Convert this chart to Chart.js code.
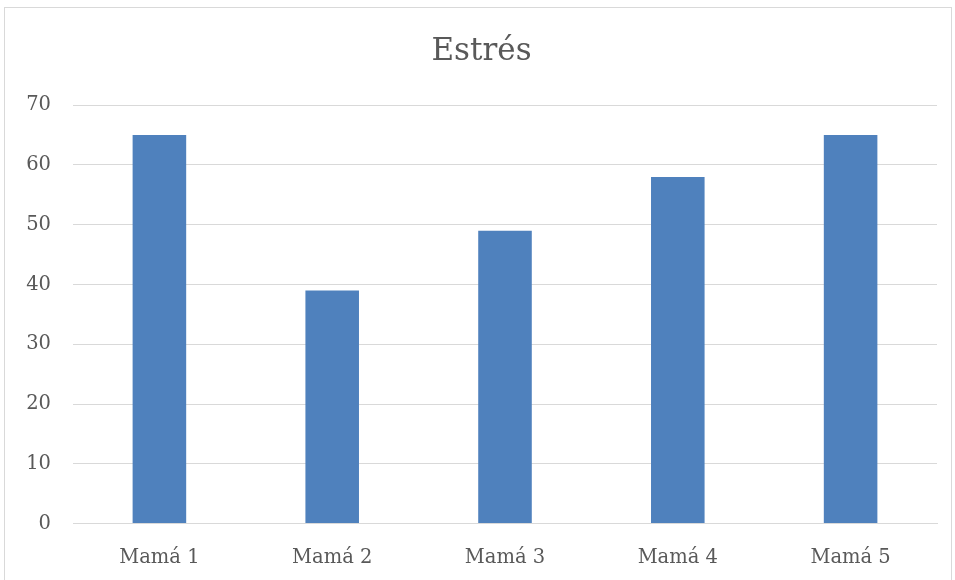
<!DOCTYPE html>
<html>
<head>
<meta charset="utf-8">
<script src="https://cdn.jsdelivr.net/npm/chart.js@4"></script>
<style>
  html, body { margin: 0; padding: 0; background: #fff; overflow: hidden; }
  #marco {
    position: absolute; left: 4px; top: 7px;
    width: 946px; height: 600px;
    border: 1px solid #d9d9d9; background: #fff;
  }
  #contenedor { position: absolute; left: 1px; top: 1px; width: 950px; height: 590px; }
</style>
</head>
<body>
<div id="marco">
  <div id="contenedor"><canvas id="graficoEstres"></canvas></div>
</div>
<script>
// categorías y valores del gráfico
var mamas = ['Mamá 1', 'Mamá 2', 'Mamá 3', 'Mamá 4', 'Mamá 5'];
var estres = [65, 39, 49, 58, 65];
var ejeY = { min: 0, max: 70, paso: 10 };

var fuente = "'DejaVu Serif', serif";
var gris = '#595959';
var lineas = '#d9d9d9';

var ctx = document.getElementById('graficoEstres').getContext('2d');
var grafico = new Chart(ctx, {
    type: 'bar',
    data: {
        labels: mamas,
        datasets: [{
            label: 'Estrés',
            data: estres,
            backgroundColor: '#4f81bd',
            borderWidth: 0,
            categoryPercentage: 1,
            barPercentage: 0.31
        }]
    },
    options: {
        responsive: true,
        maintainAspectRatio: false,
        animation: false,
        layout: { padding: { left: 20, right: 19, top: 0, bottom: 14 } },
        plugins: {
            legend: { display: false },
            tooltip: { enabled: false },
            title: {
                display: true,
                text: 'Estrés',
                color: gris,
                font: { family: fuente, size: 31, weight: 'normal' },
                padding: { top: 24, bottom: 35 }
            }
        },
        scales: {
            x: {
                grid: { display: false },
                border: { display: true, color: lineas, width: 1 },
                ticks: { color: gris, font: { family: fuente, size: 19.5 }, padding: 15 }
            },
            y: {
                min: ejeY.min,
                max: ejeY.max,
                grid: { color: lineas, lineWidth: 1, drawTicks: false },
                border: { display: false },
                // ancho fijo del eje: etiquetas + separación
                afterFit: function (eje) { eje.width = 47; },
                ticks: {
                    stepSize: ejeY.paso,
                    color: gris,
                    font: { family: fuente, size: 19.5 },
                    padding: 22
                }
            }
        }
    }
});
</script>
</body>
</html>
